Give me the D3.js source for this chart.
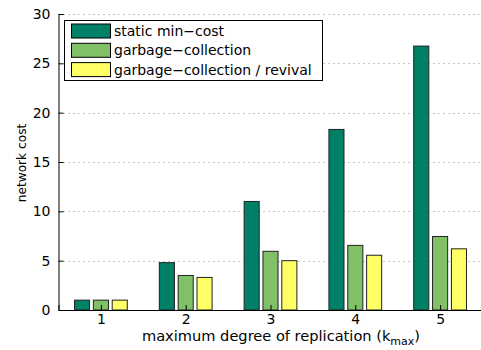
<!DOCTYPE html>
<html><head><meta charset="utf-8">
<script src="https://cdn.jsdelivr.net/npm/d3@7"></script>
<style>body{margin:0;background:#fff}svg{display:block;font-family:"DejaVu Sans",sans-serif}</style>
</head><body><svg id="c" width="481" height="350"></svg>
<script>
const categories = [1, 2, 3, 4, 5];
const seriesNames = ["static min\u2212cost", "garbage\u2212collection", "garbage\u2212collection / revival"];
const staticMinCost = [1.0, 4.8, 11.0, 18.3, 26.75];
const garbageCollection = [1.0, 3.5, 5.95, 6.55, 7.45];
const gcRevival = [1.0, 3.3, 5.0, 5.55, 6.2];
const yTicks = [0, 5, 10, 15, 20, 25, 30];
const colors = ["#008066", "#80c066", "#ffff66"];
const series = [staticMinCost, garbageCollection, gcRevival];
const FS = 14;

const svg = d3.select("#c");
const L = 58.5, R = 482.5, T = 14, B = 310;
const x = d3.scaleLinear().domain([0.5, 5.5]).range([L, R]);
const y = d3.scaleLinear().domain([0, 30]).range([B, T]);

// grid
svg.append("g").selectAll("line").data(yTicks.filter(d => d > 0)).join("line")
  .attr("x1", L).attr("x2", R).attr("y1", d => Math.round(y(d)) + 0.5).attr("y2", d => Math.round(y(d)) + 0.5)
  .attr("stroke", "#888").attr("stroke-width", 1).attr("stroke-dasharray", "1,4");

// bars
const gw = 2 / 3, bw = gw / 3 * 0.8;
series.forEach((vals, i) => {
  const off = (i - 1) * gw / 3;
  svg.append("g").selectAll("rect").data(categories.map((c, j) => ({c, v: vals[j]}))).join("rect")
    .attr("x", d => x(d.c + off - bw / 2))
    .attr("width", d => x(d.c + off + bw / 2) - x(d.c + off - bw / 2))
    .attr("y", d => y(d.v)).attr("height", d => y(0) - y(d.v))
    .attr("fill", colors[i]).attr("stroke", "#222").attr("stroke-width", 1);
});

// axes
const yAxis = d3.axisLeft(y).tickValues(yTicks).tickFormat(d3.format("d")).tickSize(-5).tickPadding(8);
const gy = svg.append("g").attr("transform", `translate(${L},0)`).call(yAxis);
const xAxis = d3.axisBottom(x).tickValues(categories).tickFormat(d3.format("d")).tickSize(-5).tickPadding(6);
const gx = svg.append("g").attr("transform", `translate(0,${B})`).call(xAxis);
[gx, gy].forEach(g => {
  g.attr("font-family", '"DejaVu Sans",sans-serif').attr("font-size", FS);
  g.selectAll("path").attr("stroke", "#000");
  g.selectAll("line").attr("stroke", "#000");
  g.selectAll("text").attr("font-size", FS).attr("fill", "#000");
});
gx.selectAll("text").attr("dy", "0.6em");

// axis labels
const xl = svg.append("text").attr("x", 281).attr("y", 341).attr("text-anchor", "middle").attr("font-size", 14.6);
xl.append("tspan").text("maximum degree of replication (k");
xl.append("tspan").attr("font-size", 11).attr("dy", 4).text("max");
xl.append("tspan").attr("dy", -4).text(")");
svg.append("text").attr("transform", "translate(26,163) rotate(-90)").attr("text-anchor", "middle")
  .attr("font-size", 12.2).text("network cost");

// legend
const lg = svg.append("g");
lg.append("rect").attr("x", 64.5).attr("y", 20.5).attr("width", 258).attr("height", 60)
  .attr("fill", "#fff").attr("stroke", "#000").attr("stroke-width", 1);
seriesNames.forEach((n, i) => {
  const cy = 31 + i * 19.3;
  lg.append("rect").attr("x", 71.5).attr("y", cy - 7).attr("width", 39).attr("height", 14)
    .attr("fill", colors[i]).attr("stroke", "#000").attr("stroke-width", 1);
  lg.append("text").attr("x", 114).attr("y", cy).attr("dy", "0.35em").attr("font-size", FS).text(n);
});
</script></body></html>
